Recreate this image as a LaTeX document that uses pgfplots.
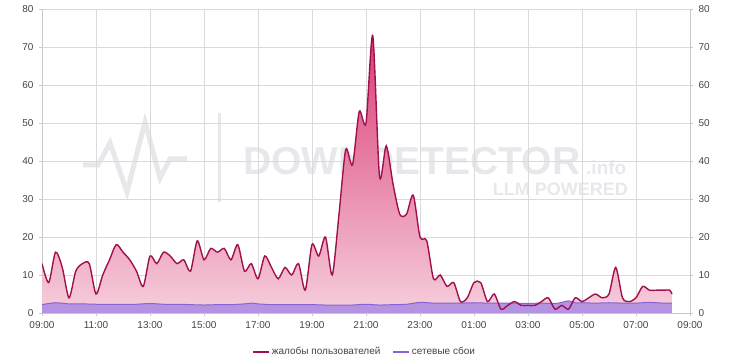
\documentclass[border=0pt]{standalone}
\usepackage{fontspec}
\setmainfont{Liberation Sans}
\usepackage{pgfplots}
\usepackage{pgfplotstable}
\pgfplotsset{compat=1.18}
\definecolor{crim}{HTML}{A0104F}
\definecolor{pinktop}{HTML}{D93A74}
\definecolor{pinkbot}{HTML}{F6CEDC}
\definecolor{purpline}{HTML}{8A63D2}
\definecolor{purpfill}{HTML}{B493E2}
\definecolor{gridc}{HTML}{DADADA}
\definecolor{axc}{HTML}{C8C8C8}
\definecolor{wm}{HTML}{E6E8EB}
\definecolor{txt}{HTML}{444444}

\pgfplotstableread{
t v
0 13
0.25 8
0.5 16
0.75 12
1.0 4
1.25 11
1.5 13
1.75 13
2.0 5
2.25 10
2.5 14
2.75 18
3.0 16
3.25 14
3.5 11
3.75 7
4.0 15
4.25 13
4.5 16
4.75 15
5.0 13
5.25 14
5.5 11
5.75 19
6.0 14
6.25 17
6.5 16
6.75 17
7.0 14
7.25 18
7.5 11
7.75 13
8.0 9
8.25 15
8.5 12
8.75 9
9.0 12
9.25 10
9.5 13
9.75 6
10.0 18
10.25 15
10.5 20
10.75 10
11.0 26
11.25 43
11.5 39
11.75 53
12.0 50
12.25 73
12.5 36
12.75 44
13.0 34
13.25 26
13.5 26
13.75 31
14.0 20
14.25 19
14.5 9
14.75 10
15.0 7
15.25 8
15.5 3
15.75 4
16.0 8
16.25 8
16.5 3
16.75 5
17.0 1
17.25 2
17.5 3
17.75 2
18.0 2
18.25 2
18.5 3
18.75 4
19.0 1
19.25 2
19.5 1
19.75 4
20.0 3
20.25 4
20.5 5
20.75 4
21.0 5
21.25 12
21.5 4
21.75 3
22.0 4
22.25 7
22.5 6
22.75 6
23.0 6
23.25 6
23.33 5
}\complaints

\pgfplotstableread{
t v
0 2.2
0.5 2.7
1.0 2.4
1.5 2.4
2.0 2.3
2.5 2.3
3.0 2.3
3.5 2.3
4.0 2.5
4.5 2.3
5.0 2.3
5.5 2.2
6.0 2.1
6.5 2.2
7.0 2.2
7.5 2.4
7.75 2.6
8.0 2.4
8.5 2.2
9.0 2.2
9.5 2.2
10.0 2.2
10.5 2.1
11.0 2.1
11.5 2.1
12.0 2.3
12.5 2.1
13.0 2.2
13.5 2.3
14.0 2.8
14.5 2.6
15.0 2.6
15.5 2.6
16.0 2.7
16.5 2.6
17.0 2.6
17.5 2.6
18.0 2.5
18.5 2.6
19.0 2.5
19.25 2.8
19.5 3.2
19.75 2.7
20.0 2.7
20.5 2.6
21.0 2.7
21.5 2.6
22.0 2.6
22.5 2.8
23.0 2.6
23.33 2.6
}\network

\begin{document}
\fontsize{10bp}{12bp}\selectfont
\begin{tikzpicture}
\useasboundingbox (0,0) rectangle (730bp,364bp);
% watermark
\draw[wm, line width=5bp, line join=miter] (83bp,199bp) -- (98bp,199bp) -- (110bp,221bp) -- (127bp,172bp) -- (145bp,242bp) -- (160bp,186bp) -- (170bp,205bp) -- (187bp,205bp);
\draw[wm, line width=3bp] (219bp,251bp) -- (219bp,162bp);
\node[wm, anchor=base west, inner sep=0pt, font=\fontsize{39bp}{40bp}\selectfont\bfseries] at (243bp,189bp) {DOWNDETECTOR};
\node[wm, anchor=base west, inner sep=0pt, font=\fontsize{19bp}{20bp}\selectfont\bfseries] at (586bp,189bp) {.info};
\node[wm, anchor=base east, inner sep=0pt, font=\fontsize{18bp}{20bp}\selectfont\bfseries] at (628bp,168bp) {LLM POWERED};

\begin{axis}[
  at={(42bp,51bp)}, anchor=south west,
  scale only axis, width=648bp, height=304bp,
  xmin=0, xmax=24, ymin=0, ymax=80,
  xtick={0,2,...,24},
  xticklabels={09:00,11:00,13:00,15:00,17:00,19:00,21:00,23:00,01:00,03:00,05:00,07:00,09:00},
  ytick={0,10,...,80},
  /pgf/number format/assume math mode=true,
  ticklabel style={font=\fontsize{10bp}{12bp}\selectfont, text=txt},
  xticklabel style={yshift=-2bp},
  yticklabel style={xshift=-2bp},
  grid=major,
  major grid style={draw=gridc, line width=0.6bp},
  axis line style={draw=axc, line width=0.6bp},
  tick style={draw=axc, line width=0.6bp},
  major tick length=3bp,
  tick align=outside,
  xtick pos=bottom, ytick pos=left,
  axis x line*=bottom, axis y line*=left,
  legend columns=2,
  legend style={at={(0.498,-0.128)}, anchor=center, draw=none, fill=none,
    font=\fontsize{10bp}{12bp}\selectfont, text=txt,
    /tikz/every even column/.append style={column sep=10bp}},
  legend image code/.code={\draw[#1, line width=1.5bp] (0bp,0bp) -- (16bp,0bp);},
  clip=true,
]
\addplot[draw=none, top color=pinktop, bottom color=pinkbot, smooth, tension=0.45, forget plot] table[x=t,y=v]{\complaints} \closedcycle;
\addplot[draw=none, fill=purpfill, smooth, forget plot] table[x=t,y=v]{\network} \closedcycle;
\addplot[purpline, line width=1bp, smooth, forget plot] table[x=t,y=v]{\network};
\addplot[crim, line width=1.4bp, smooth, tension=0.45, forget plot] table[x=t,y=v]{\complaints};
\addlegendimage{crim}
\addlegendentry{жалобы пользователей}
\addlegendimage{purpline}
\addlegendentry{сетевые сбои}
\node[rotate=90, anchor=center, text=txt] at (axis description cs:-0.051,0.5) {сетевые сбои, \%};
\end{axis}

\begin{axis}[
  at={(42bp,51bp)}, anchor=south west,
  scale only axis, width=648bp, height=304bp,
  xmin=0, xmax=24, ymin=0, ymax=80,
  axis x line=none, axis y line*=right,
  ytick={0,10,...,80},
  /pgf/number format/assume math mode=true,
  ticklabel style={font=\fontsize{10bp}{12bp}\selectfont, text=txt},
  yticklabel style={xshift=2bp},
  axis line style={draw=axc, line width=0.6bp},
  tick style={draw=axc, line width=0.6bp},
  major tick length=3bp, tick align=outside,
]
\node[rotate=-90, anchor=center, text=txt] at (axis description cs:1.034,0.5) {жалобы};
\end{axis}
\end{tikzpicture}
\end{document}
